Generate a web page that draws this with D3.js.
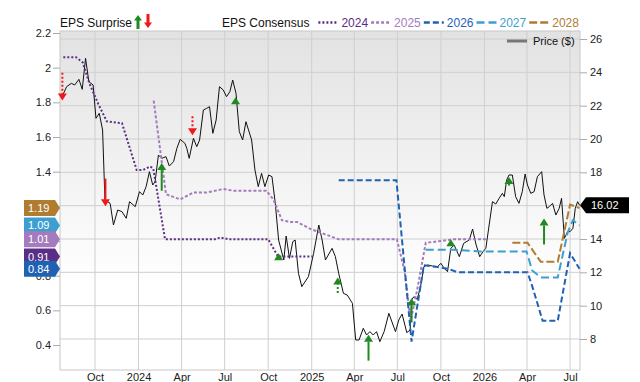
<!DOCTYPE html>
<html>
<head>
<meta charset="utf-8">
<script src="https://cdn.jsdelivr.net/npm/d3@7"></script>
<style>
  body { margin: 0; background: #fff; }
  svg { display: block; font-family: "Liberation Sans", Arial, sans-serif; }
</style>
</head>
<body>
<div id="chart"></div>
<script>
// price ($), right axis
const price = [
  ['2023-07-25', 22.64], ['2023-08-02', 23.14], ['2023-08-12', 23.34], ['2023-08-19', 23.24],
  ['2023-08-28', 23.58], ['2023-09-04', 22.98], ['2023-09-11', 24.84], ['2023-09-18', 23.44],
  ['2023-09-27', 23.24], ['2023-10-03', 21.24], ['2023-10-10', 21.54], ['2023-10-17', 20.54],
  ['2023-10-22', 16.34], ['2023-11-02', 16.14], ['2023-11-09', 14.84], ['2023-11-18', 15.74],
  ['2023-11-27', 15.64], ['2023-12-06', 15.24], ['2023-12-13', 16.24], ['2023-12-25', 15.94],
  ['2024-01-03', 16.84], ['2024-01-10', 16.64], ['2024-01-17', 17.14], ['2024-01-24', 18.04],
  ['2024-01-31', 17.24], ['2024-02-05', 17.44], ['2024-02-12', 19.04], ['2024-02-19', 18.84],
  ['2024-02-28', 18.94], ['2024-03-06', 18.38], ['2024-03-15', 18.64], ['2024-03-22', 19.44],
  ['2024-03-29', 19.98], ['2024-04-08', 19.74], ['2024-04-12', 19.44], ['2024-04-17', 18.84],
  ['2024-04-26', 20.04], ['2024-05-03', 19.54], ['2024-05-09', 19.94], ['2024-05-17', 21.74],
  ['2024-05-24', 21.84], ['2024-05-30', 21.94], ['2024-06-06', 20.34], ['2024-06-13', 21.14],
  ['2024-06-20', 23.14], ['2024-06-28', 22.94], ['2024-07-05', 22.54], ['2024-07-12', 22.84],
  ['2024-07-18', 23.54], ['2024-07-25', 22.74], ['2024-08-01', 20.44], ['2024-08-08', 19.94],
  ['2024-08-15', 21.04], ['2024-08-27', 19.94], ['2024-09-03', 18.14], ['2024-09-10', 17.14],
  ['2024-09-17', 17.94], ['2024-09-24', 17.14], ['2024-10-02', 17.84], ['2024-10-09', 17.74],
  ['2024-10-16', 16.14], ['2024-10-23', 13.94], ['2024-11-03', 12.74], ['2024-11-08', 14.18],
  ['2024-11-15', 12.84], ['2024-11-22', 13.84], ['2024-11-27', 13.94], ['2024-12-04', 11.94],
  ['2024-12-11', 11.14], ['2024-12-25', 11.74], ['2025-01-05', 13.14], ['2025-01-16', 14.84],
  ['2025-01-23', 13.94], ['2025-01-30', 12.74], ['2025-02-13', 13.44], ['2025-02-20', 12.94],
  ['2025-02-27', 11.94], ['2025-03-09', 10.74], ['2025-03-17', 10.64], ['2025-03-28', 10.14],
  ['2025-04-04', 7.94], ['2025-04-11', 7.94], ['2025-04-20', 8.64], ['2025-04-27', 8.24],
  ['2025-05-04', 8.44], ['2025-05-11', 8.24], ['2025-05-18', 8.44], ['2025-05-25', 7.84],
  ['2025-06-03', 8.44], ['2025-06-13', 9.54], ['2025-06-27', 8.44], ['2025-07-04', 9.14],
  ['2025-07-11', 9.5], ['2025-07-21', 8.38], ['2025-07-28', 8.54], ['2025-07-31', 10.34],
  ['2025-08-05', 10.54], ['2025-08-12', 10.38], ['2025-08-19', 11.14], ['2025-08-26', 12.34],
  ['2025-09-03', 12.44], ['2025-09-13', 12.38], ['2025-09-24', 12.34], ['2025-10-01', 12.54],
  ['2025-10-08', 12.24], ['2025-10-15', 12.04], ['2025-10-22', 13.44], ['2025-10-29', 13.64],
  ['2025-11-09', 12.94], ['2025-11-18', 13.74], ['2025-11-30', 13.94], ['2025-12-07', 14.6],
  ['2025-12-14', 13.7], ['2025-12-22', 12.94], ['2025-12-29', 13.24], ['2026-01-04', 13.44],
  ['2026-01-11', 14.84], ['2026-01-18', 16.24], ['2026-01-25', 16.1], ['2026-02-01', 16.44],
  ['2026-02-08', 16.74], ['2026-02-12', 16.54], ['2026-02-17', 17.54], ['2026-02-22', 17.84],
  ['2026-03-01', 17.84], ['2026-03-08', 16.54], ['2026-03-15', 16.14], ['2026-03-22', 16.84],
  ['2026-03-28', 17.9], ['2026-04-02', 17.24], ['2026-04-09', 16.74], ['2026-04-16', 16.84],
  ['2026-04-23', 17.74], ['2026-05-02', 18.04], ['2026-05-07', 16.64], ['2026-05-13', 15.84],
  ['2026-05-18', 15.94], ['2026-05-25', 16.14], ['2026-06-01', 15.44], ['2026-06-08', 15.84],
  ['2026-06-13', 16.44], ['2026-06-19', 14.04], ['2026-06-26', 14.44], ['2026-07-01', 14.44],
  ['2026-07-07', 14.64], ['2026-07-12', 15.84], ['2026-07-17', 16.24], ['2026-07-21', 16.02]
];

// EPS consensus by fiscal year, left axis
const eps2024 = [
  ['2023-07-26', 2.06], ['2023-08-22', 2.06], ['2023-09-05', 2.03], ['2023-09-19', 1.91],
  ['2023-10-08', 1.79], ['2023-10-26', 1.69], ['2023-11-27', 1.68], ['2023-12-28', 1.41],
  ['2024-01-11', 1.41], ['2024-01-25', 1.43], ['2024-02-01', 1.42], ['2024-02-26', 1.01],
  ['2024-06-10', 1.01], ['2024-06-22', 1.02], ['2024-07-10', 1.01], ['2024-10-01', 1.01],
  ['2024-10-22', 0.91], ['2025-01-03', 0.91]
];
const eps2025 = [
  ['2024-02-02', 1.81], ['2024-02-28', 1.27], ['2024-03-29', 1.24], ['2024-04-26', 1.28],
  ['2024-05-24', 1.28], ['2024-06-28', 1.3], ['2024-07-20', 1.29], ['2024-09-27', 1.29],
  ['2024-10-12', 1.24], ['2024-10-30', 1.12], ['2024-11-16', 1.11], ['2024-12-01', 1.11],
  ['2024-12-29', 1.07], ['2025-02-27', 1.01], ['2025-06-30', 1.01], ['2025-07-16', 0.83],
  ['2025-07-29', 0.54], ['2025-08-12', 0.72], ['2025-08-30', 0.99], ['2025-10-01', 1.0],
  ['2025-10-29', 1.01], ['2026-01-04', 1.01]
];
const eps2026 = [
  ['2025-02-27', 1.35], ['2025-06-29', 1.35], ['2025-07-31', 0.42], ['2025-08-26', 0.86],
  ['2025-09-24', 0.85], ['2025-10-17', 0.84], ['2025-11-05', 0.82], ['2026-04-02', 0.82],
  ['2026-04-12', 0.74], ['2026-05-04', 0.54], ['2026-06-05', 0.54], ['2026-07-01', 0.93],
  ['2026-07-21', 0.84]
];
const eps2027 = [
  ['2025-08-30', 0.95], ['2025-10-29', 0.95], ['2025-12-22', 0.94], ['2026-03-31', 0.94],
  ['2026-04-12', 0.83], ['2026-04-30', 0.79], ['2026-06-05', 0.79], ['2026-06-26', 1.05],
  ['2026-07-07', 1.12], ['2026-07-21', 1.09]
];
const eps2028 = [
  ['2026-03-01', 0.99], ['2026-04-02', 0.99], ['2026-04-30', 0.88], ['2026-06-05', 0.88],
  ['2026-07-01', 1.21], ['2026-07-21', 1.19]
];

// EPS surprises: date, estimate, actual, dotted arrow or not
const surprises = [
  ['2023-07-24', 1.97, 1.81, true], ['2023-10-23', 1.36, 1.20, false],
  ['2024-02-19', 1.29, 1.45, false], ['2024-04-24', 1.72, 1.61, true],
  ['2024-07-24', 1.80, 1.83, false], ['2024-10-23', 0.89, 0.93, false],
  ['2025-02-25', 0.70, 0.79, true], ['2025-05-01', 0.31, 0.46, false],
  ['2025-07-31', 0.53, 0.67, false], ['2025-10-22', 0.98, 1.01, false],
  ['2026-02-22', 1.32, 1.37, false], ['2026-05-07', 0.98, 1.13, false]
];

const epsTicks = [0.4, 0.6, 0.8, 1, 1.2, 1.4, 1.6, 1.8, 2, 2.2];
const priceTicks = [8, 10, 12, 14, 16, 18, 20, 22, 24, 26];

const series = [
  { name: '2024', data: eps2024, color: '#5b2e85', dash: '2,2' },
  { name: '2025', data: eps2025, color: '#a47bbd', dash: '3,2' },
  { name: '2026', data: eps2026, color: '#1f62b4', dash: '6,3' },
  { name: '2027', data: eps2027, color: '#3c9fd0', dash: '8,4' },
  { name: '2028', data: eps2028, color: '#b07c30', dash: '8,3' }
];

const W = 640, H = 382;
const L = 60, R = 580, T = 31, B = 370;
const parse = d3.timeParse('%Y-%m-%d');

const x = d3.scaleTime().domain([parse('2023-07-19'), parse('2026-07-22')]).range([L, R]);
const yEps = d3.scaleLinear().domain([0.256, 2.2115]).range([B, T]);
const yPrice = d3.scaleLinear().domain([6.14, 26.48]).range([B, T]);

const svg = d3.select('#chart').append('svg').attr('width', W).attr('height', H);

const grad = svg.append('defs').append('linearGradient')
  .attr('id', 'bg').attr('x1', 0).attr('y1', 0).attr('x2', 0).attr('y2', 1);
grad.append('stop').attr('offset', '0%').attr('stop-color', '#e2e2e2');
grad.append('stop').attr('offset', '75%').attr('stop-color', '#ffffff');

svg.append('rect').attr('x', L).attr('y', T).attr('width', R - L).attr('height', B - T)
  .attr('fill', 'url(#bg)');

// grid
const xTicks = d3.timeMonth.every(3).range(parse('2023-10-01'), parse('2026-07-02'));
svg.append('g').selectAll('line').data(xTicks).join('line')
  .attr('x1', d => x(d)).attr('x2', d => x(d)).attr('y1', T).attr('y2', B)
  .attr('stroke', '#cfcfcf');
svg.append('g').selectAll('line').data(priceTicks).join('line')
  .attr('x1', L).attr('x2', R).attr('y1', d => yPrice(d)).attr('y2', d => yPrice(d))
  .attr('stroke', '#cfcfcf');
svg.append('rect').attr('x', L).attr('y', T).attr('width', R - L).attr('height', B - T)
  .attr('fill', 'none').attr('stroke', '#c8c8c8');

// price line
const priceLine = d3.line().x(d => x(parse(d[0]))).y(d => yPrice(d[1]));
svg.append('path').datum(price).attr('d', priceLine)
  .attr('fill', 'none').attr('stroke', '#111').attr('stroke-width', 1);

// consensus lines
const epsLine = d3.line().x(d => x(parse(d[0]))).y(d => yEps(d[1]));
svg.append('g').selectAll('path').data(series).join('path')
  .attr('d', d => epsLine(d.data))
  .attr('fill', 'none').attr('stroke', d => d.color).attr('stroke-width', 2)
  .attr('stroke-dasharray', d => d.dash);

// surprise arrows
const arrows = svg.append('g');
surprises.forEach(([date, from, to, dotted]) => {
  const ax = x(parse(date));
  const y0 = yEps(from), y1 = yEps(to);
  const up = to > from;
  const col = up ? '#1f8a1f' : '#f01818';
  const head = 7, dir = up ? 1 : -1;
  if (Math.abs(y1 - y0) > head) {
    arrows.append('line').attr('x1', ax).attr('x2', ax)
      .attr('y1', y0).attr('y2', y1 + dir * head)
      .attr('stroke', col).attr('stroke-width', 2)
      .attr('stroke-dasharray', dotted ? '2,2' : null);
  }
  arrows.append('path')
    .attr('d', `M${ax - 4.5},${y1 + dir * head}L${ax + 4.5},${y1 + dir * head}L${ax},${y1}Z`)
    .attr('fill', col);
});

// latest consensus values, used for the tags and to skip tick labels they hide
const latest = series.map(s => ({ v: s.data[s.data.length - 1][1], color: s.color }))
  .sort((a, b) => b.v - a.v);
const lastPrice = price[price.length - 1][1];
const coveredEps = v => latest.some(d => Math.abs(yEps(d.v) - yEps(v)) < 5);
const coveredPrice = v => Math.abs(yPrice(lastPrice) - yPrice(v)) < 8;

// axes
const fmt = d3.format('~g');
const gl = svg.append('g').attr('transform', `translate(${L},0)`)
  .call(d3.axisLeft(yEps).tickValues(epsTicks).tickSize(7).tickPadding(2)
    .tickFormat(d => coveredEps(d) ? '' : fmt(d)));
const gr = svg.append('g').attr('transform', `translate(${R},0)`)
  .call(d3.axisRight(yPrice).tickValues(priceTicks).tickSize(7).tickPadding(3)
    .tickFormat(d => coveredPrice(d) ? '' : d));
const monthFmt = d3.timeFormat('%b');
const gb = svg.append('g').attr('transform', `translate(0,${B})`)
  .call(d3.axisBottom(x).tickValues(xTicks).tickSize(0).tickPadding(3)
    .tickFormat(d => d.getMonth() === 0 ? d.getFullYear() : monthFmt(d)));
[gl, gr, gb].forEach(g => {
  g.select('.domain').remove();
  g.selectAll('.tick line').attr('stroke', '#aaa');
  g.selectAll('text').attr('font-size', 11).attr('fill', '#222')
    .attr('font-family', '"Liberation Sans", Arial, sans-serif');
});

// latest consensus tags on the left
const tags = svg.append('g').selectAll('g').data(latest).join('g')
  .attr('transform', d => `translate(0,${yEps(d.v)})`);
tags.append('path').attr('d', 'M24,-8L55,-8L60,0L55,8L24,8Z').attr('fill', d => d.color);
tags.append('text').attr('x', 28).attr('y', 4).attr('font-size', 11).attr('fill', '#fff')
  .text(d => d.v.toFixed(2));

// last price tag
const pt = svg.append('g').attr('transform', `translate(0,${yPrice(lastPrice)})`);
pt.append('path').attr('d', 'M580,0L586,-8L629,-8L629,8L586,8Z').attr('fill', '#000');
pt.append('text').attr('x', 591).attr('y', 4).attr('font-size', 11).attr('fill', '#fff')
  .text(lastPrice.toFixed(2));

// legend
const lg = svg.append('g').attr('font-size', 12);
lg.append('text').attr('x', L).attr('y', 27).attr('fill', '#111').text('EPS Surprise');
lg.append('path').attr('d', 'M134,20.5L136.5,20.5L136.5,29L139.5,29L139.5,20.5L142,20.5L138,15Z')
  .attr('fill', '#1f8a1f');
lg.append('path').attr('d', 'M144,22.5L146.5,22.5L146.5,14L149.5,14L149.5,22.5L152,22.5L148,28Z')
  .attr('fill', '#f01818');
const cons = lg.append('text').attr('x', 222).attr('y', 27).attr('fill', '#111').text('EPS Consensus');
let lx = 222 + cons.node().getComputedTextLength() + 9;
series.forEach(s => {
  lg.append('line').attr('x1', lx).attr('x2', lx + 20).attr('y1', 22.5).attr('y2', 22.5)
    .attr('stroke', s.color).attr('stroke-width', 2.5).attr('stroke-dasharray', s.dash);
  const t = lg.append('text').attr('x', lx + 23).attr('y', 27).attr('fill', s.color).text(s.name);
  lx += 23 + t.node().getComputedTextLength() + 3;
});

svg.append('line').attr('x1', 507).attr('x2', 527).attr('y1', 41).attr('y2', 41)
  .attr('stroke', '#777').attr('stroke-width', 3);
svg.append('text').attr('x', 533).attr('y', 45).attr('font-size', 11).attr('fill', '#111')
  .text('Price ($)');
</script>
</body>
</html>
